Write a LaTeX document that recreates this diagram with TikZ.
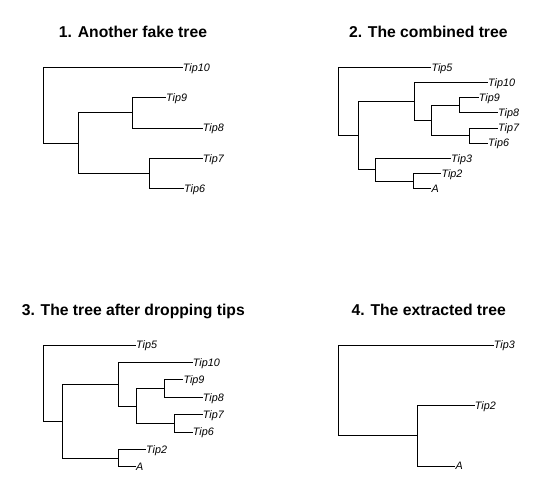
\documentclass[tikz,border=0pt]{standalone}
\usepackage{fontspec}
\setmainfont{Liberation Sans}
\begin{document}
\begin{tikzpicture}[x=1pt,y=1pt,yscale=-1,xscale=1,
  branch/.style={line width=0.8pt},
  tiplabel/.style={anchor=west,inner sep=0pt,text height=7.7pt,text depth=0pt,font=\fontsize{10.8}{12}\selectfont\itshape},
  paneltitle/.style={inner sep=0pt,text height=11.3pt,text depth=0pt,font=\fontsize{15.7}{18}\selectfont\bfseries}]
\useasboundingbox (0,0) rectangle (544,479);

%Panel 1: another fake tree
\node[paneltitle] (title1) at (133,31.7) {1. Another fake tree};
% Text Node
\node[tiplabel] (p1t10) at (182.7,67.3) {Tip10};
\node[tiplabel] (p1t9) at (166,97.5) {Tip9};
\node[tiplabel] (p1t8) at (202.7,128.1) {Tip8};
\node[tiplabel] (p1t7) at (202.7,158.4) {Tip7};
\node[tiplabel] (p1t6) at (184,188.3) {Tip6};
% internal nodes
\coordinate (p1n98) at (132,112.8);
\coordinate (p1n76) at (149.3,173.35);
\coordinate (p1n9876) at (78.3,143.1);
\coordinate (p1root) at (43.3,105.2);
\draw[branch] (p1root) |- (p1t10.west) (p1root) |- (p1n9876);
\draw[branch] (p1n9876) |- (p1n98) (p1n9876) |- (p1n76);
\draw[branch] (p1n98) |- (p1t9.west) (p1n98) |- (p1t8.west);
\draw[branch] (p1n76) |- (p1t7.west) (p1n76) |- (p1t6.west);

%Panel 2: the combined tree
\node[paneltitle] (title2) at (428.3,31.7) {2. The combined tree};
% Text Node
\node[tiplabel] (p2t5) at (431.3,67.3) {Tip5};
\node[tiplabel] (p2t10) at (488,82.45) {Tip10};
\node[tiplabel] (p2t9) at (478.7,97.6) {Tip9};
\node[tiplabel] (p2t8) at (498,112.75) {Tip8};
\node[tiplabel] (p2t7) at (498,127.9) {Tip7};
\node[tiplabel] (p2t6) at (488,143.05) {Tip6};
\node[tiplabel] (p2t3) at (451,158.2) {Tip3};
\node[tiplabel] (p2t2) at (441.3,173.35) {Tip2};
\node[tiplabel] (p2tA) at (431.3,188.5) {A};
% internal nodes
\coordinate (p2n98) at (459.7,105.2);
\coordinate (p2n76) at (469.7,135.5);
\coordinate (p2n9876) at (431.3,120.3);
\coordinate (p2n10) at (414,101.4);
\coordinate (p2n2A) at (413.7,180.9);
\coordinate (p2n32A) at (375.7,169.6);
\coordinate (p2nin) at (358,135.5);
\coordinate (p2root) at (338.7,101.4);
\draw[branch] (p2root) |- (p2t5.west) (p2root) |- (p2nin);
\draw[branch] (p2nin) |- (p2n10) (p2nin) |- (p2n32A);
\draw[branch] (p2n10) |- (p2t10.west) (p2n10) |- (p2n9876);
\draw[branch] (p2n9876) |- (p2n98) (p2n9876) |- (p2n76);
\draw[branch] (p2n98) |- (p2t9.west) (p2n98) |- (p2t8.west);
\draw[branch] (p2n76) |- (p2t7.west) (p2n76) |- (p2t6.west);
\draw[branch] (p2n32A) |- (p2t3.west) (p2n32A) |- (p2n2A);
\draw[branch] (p2n2A) |- (p2t2.west) (p2n2A) |- (p2tA.west);

%Panel 3: the tree after dropping tips
\node[paneltitle] (title3) at (133.3,310) {3. The tree after dropping tips};
% Text Node
\node[tiplabel] (p3t5) at (136,345) {Tip5};
\node[tiplabel] (p3t10) at (192.7,362.4) {Tip10};
\node[tiplabel] (p3t9) at (183.3,379.8) {Tip9};
\node[tiplabel] (p3t8) at (202.7,397.2) {Tip8};
\node[tiplabel] (p3t7) at (202.7,414.6) {Tip7};
\node[tiplabel] (p3t6) at (192.7,432) {Tip6};
\node[tiplabel] (p3t2) at (146,449.3) {Tip2};
\node[tiplabel] (p3tA) at (136,466.7) {A};
% internal nodes
\coordinate (p3n98) at (164.3,388.5);
\coordinate (p3n76) at (174.3,423.3);
\coordinate (p3n9876) at (136.7,405.9);
\coordinate (p3n10) at (118.7,384.1);
\coordinate (p3n2A) at (118.7,458);
\coordinate (p3nin) at (62.7,421.1);
\coordinate (p3root) at (43.3,383);
\draw[branch] (p3root) |- (p3t5.west) (p3root) |- (p3nin);
\draw[branch] (p3nin) |- (p3n10) (p3nin) |- (p3n2A);
\draw[branch] (p3n10) |- (p3t10.west) (p3n10) |- (p3n9876);
\draw[branch] (p3n9876) |- (p3n98) (p3n9876) |- (p3n76);
\draw[branch] (p3n98) |- (p3t9.west) (p3n98) |- (p3t8.west);
\draw[branch] (p3n76) |- (p3t7.west) (p3n76) |- (p3t6.west);
\draw[branch] (p3n2A) |- (p3t2.west) (p3n2A) |- (p3tA.west);

%Panel 4: the extracted tree
\node[paneltitle] (title4) at (428.7,309.5) {4. The extracted tree};
% Text Node
\node[tiplabel] (p4t3) at (493.7,345) {Tip3};
\node[tiplabel] (p4t2) at (474.7,405.5) {Tip2};
\node[tiplabel] (p4tA) at (455.3,466) {A};
% internal nodes
\coordinate (p4n2A) at (417.7,435.75);
\coordinate (p4root) at (338.7,390.4);
\draw[branch] (p4root) |- (p4t3.west) (p4root) |- (p4n2A);
\draw[branch] (p4n2A) |- (p4t2.west) (p4n2A) |- (p4tA.west);

\end{tikzpicture}
\end{document}
